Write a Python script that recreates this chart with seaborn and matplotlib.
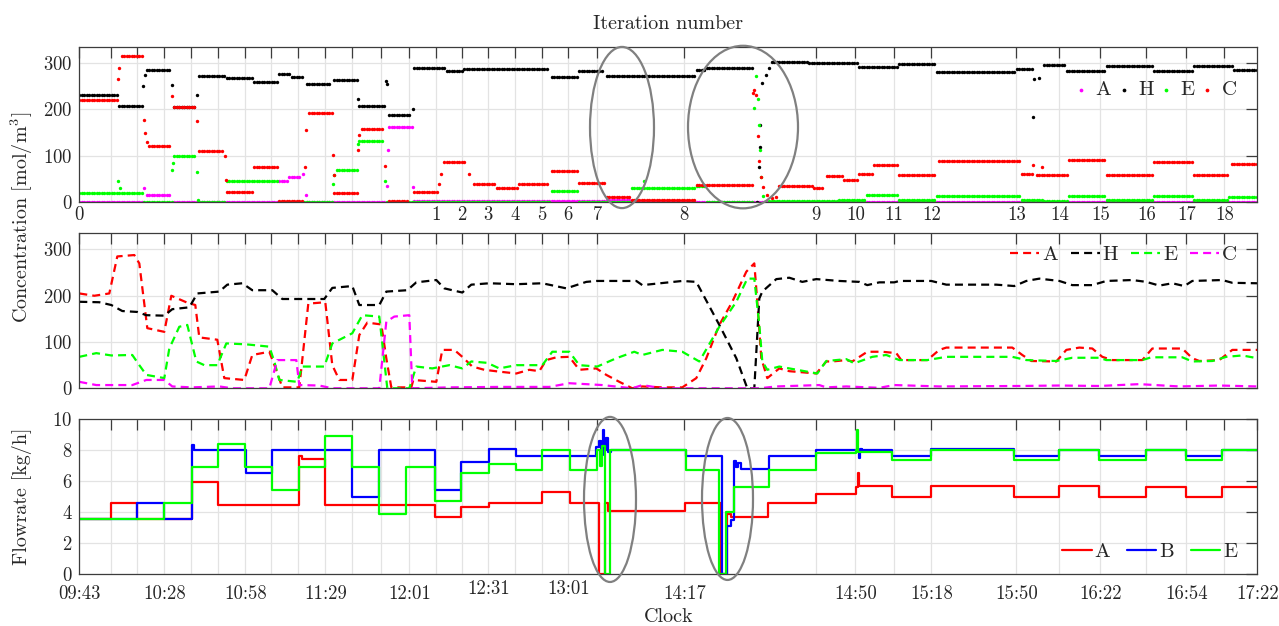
import numpy as np
import pandas as pd
import matplotlib
matplotlib.use("Agg")
import matplotlib.pyplot as plt
import seaborn as sns
from matplotlib.patches import Ellipse

sns.set_style("white")
plt.rcParams['font.family'] = ['cmr10', 'DejaVu Serif']
plt.rcParams['mathtext.fontset'] = 'cm'
plt.rcParams['axes.formatter.use_mathtext'] = True

# ---------------- x axis (sample index) ----------------
x_max = 1178
grid_positions = [0, 32, 58, 85, 112, 139, 166, 192, 219, 246, 273, 302, 330, 357,
                  383, 409, 436, 463, 489, 518, 605, 737, 776, 815, 852, 937, 980,
                  1021, 1067, 1107, 1145]
iteration_labels = {0: '0', 357: '1', 383: '2', 409: '3', 436: '4', 463: '5', 489: '6',
                    518: '7', 605: '8', 737: '9', 776: '10', 815: '11', 852: '12',
                    937: '13', 980: '14', 1021: '15', 1067: '16', 1107: '17', 1145: '18'}
clock_labels = {0: '09:43', 85: '10:28', 166: '10:58', 246: '11:29', 330: '12:01',
                409: '12:31', 489: '13:01', 605: '14:17', 776: '14:50', 852: '15:18',
                937: '15:50', 1021: '16:22', 1107: '16:54', 1178: '17:22'}
sample_x = np.arange(0, x_max, 2.5)   # measurement instants

# ---------------- top panel: measured concentrations (start, end, level) ----------------
top_A_segments = [(0, 63, 0), (66, 92, 15), (93, 198, 0), (198, 210, 45), (210, 222, 55),
                  (226, 307, 0), (310, 333, 163), (335, 472, 2), (472, 527, 3),
                  (527, 552, 5), (552, 1178, 1)]
top_A_points = [(65, 30), (224, 60), (227, 15), (308, 35), (309, 113), (334, 33)]

top_H_segments = [(0, 38, 230), (38, 63, 208), (67, 92, 285), (94, 117, 206), (119, 147, 272),
                  (147, 173, 268), (173, 198, 259), (198, 212, 277), (212, 225, 270),
                  (227, 252, 254), (253, 278, 263), (280, 306, 208), (310, 332, 187),
                  (335, 367, 289), (367, 385, 282), (385, 470, 286), (472, 498, 270),
                  (499, 523, 282), (527, 617, 272), (617, 627, 285), (627, 673, 289),
                  (692, 730, 303), (730, 780, 299), (780, 820, 292), (820, 857, 298),
                  (857, 937, 281), (937, 953, 288), (963, 987, 295), (987, 1027, 282),
                  (1027, 1073, 294), (1073, 1113, 282), (1113, 1153, 294), (1153, 1178, 284)]
top_H_points = [(64, 250), (66, 275), (93, 252), (118, 230), (279, 222), (307, 262), (308, 255),
                (334, 200), (678, 0), (680, 77), (680.5, 120), (681, 167), (683, 257),
                (687, 275), (690, 289), (954, 183), (955, 265), (960, 268)]

top_E_segments = [(0, 63, 20), (63, 93, 0), (95, 117, 99), (119, 147, 0), (147, 198, 45),
                  (198, 253, 0), (257, 278, 70), (280, 305, 132), (307, 472, 1), (472, 498, 25),
                  (498, 552, 0), (552, 617, 30), (617, 627, 36), (627, 673, 0), (690, 760, 3),
                  (760, 787, 5), (787, 820, 15), (820, 857, 5), (857, 942, 14), (942, 963, 5),
                  (963, 988, 3), (988, 1027, 14), (1027, 1073, 4), (1073, 1113, 14),
                  (1113, 1150, 5), (1150, 1178, 12)]
top_E_points = [(39, 45), (41, 30), (93, 70), (94, 85), (118, 65), (119, 5), (253.5, 40),
                (255, 58), (279, 125), (306, 45), (565, 45), (675, 203), (677, 271),
                (679, 222), (680, 167), (681, 113), (682, 55), (684, 14)]

top_C_segments = [(0, 38, 220), (42, 63, 316), (70, 92, 122), (94, 117, 205), (119, 145, 110),
                  (147, 173, 22), (173, 198, 76), (198, 225, 3), (228, 253, 193), (255, 278, 21),
                  (282, 305, 157), (308, 330, 3), (333, 358, 22), (365, 387, 86), (393, 417, 40),
                  (417, 438, 30), (438, 470, 39), (472, 498, 68), (498, 527, 42), (527, 552, 12),
                  (552, 617, 5), (617, 673, 37), (700, 733, 36), (733, 745, 30), (747, 765, 56),
                  (765, 780, 47), (780, 793, 62), (793, 820, 81), (820, 857, 59), (860, 942, 88),
                  (942, 953, 60), (957, 988, 59), (988, 1027, 90), (1027, 1073, 59),
                  (1075, 1113, 87), (1113, 1150, 58), (1152, 1178, 83)]
top_C_points = [(39, 265), (40, 290), (65, 178), (66, 150), (68, 130), (93, 228), (118, 175),
                (146, 99), (146.5, 48), (226, 75), (227, 155), (253.5, 102), (254.5, 58),
                (279, 112), (280, 145), (306, 78), (360, 40), (362, 60), (390, 62), (674, 235),
                (675, 242), (677, 232), (679, 142), (680, 88), (682, 55), (684, 34), (688, 16),
                (693, 9), (697, 12), (954, 80), (963, 75)]

# ---------------- middle panel: model concentrations (x, value) ----------------
mid_A = [(0, 205), (15, 200), (30, 205), (38, 285), (55, 288), (60, 270), (68, 130), (85, 122),
         (92, 200), (108, 185), (116, 180), (120, 110), (138, 105), (145, 22), (165, 18),
         (173, 72), (190, 79), (196, 45), (203, 2), (220, 2), (229, 183), (246, 186), (253, 50),
         (260, 18), (273, 18), (280, 115), (288, 142), (302, 138), (307, 65), (312, 2), (332, 2),
         (334, 18), (357, 14), (363, 83), (375, 83), (383, 68), (393, 47), (405, 40), (420, 36),
         (437, 32), (450, 40), (460, 37), (467, 61), (477, 67), (490, 68), (500, 40), (517, 43),
         (527, 29), (540, 14), (553, 0), (563, 4), (583, 2), (603, 2), (617, 22), (627, 65),
         (640, 137), (653, 187), (667, 252), (675, 270), (678, 187), (682, 65), (688, 22),
         (700, 43), (710, 37), (737, 32), (747, 58), (753, 58), (767, 61), (773, 58), (788, 79),
         (803, 79), (817, 76), (822, 61), (848, 61), (860, 83), (867, 88), (933, 88), (943, 72),
         (952, 59), (977, 58), (987, 83), (1000, 88), (1013, 86), (1023, 68), (1033, 61),
         (1063, 61), (1073, 86), (1103, 86), (1113, 65), (1120, 59), (1140, 61), (1153, 83),
         (1178, 83)]
mid_H = [(0, 187), (20, 186), (32, 180), (43, 167), (58, 165), (67, 158), (85, 157), (93, 171),
         (110, 175), (118, 205), (140, 209), (148, 224), (163, 227), (173, 212), (193, 212),
         (203, 193), (245, 193), (253, 217), (273, 221), (280, 180), (300, 180), (307, 209),
         (328, 212), (337, 229), (357, 234), (365, 216), (383, 207), (392, 224), (410, 227),
         (437, 225), (463, 227), (487, 216), (507, 230), (517, 232), (557, 232), (563, 223),
         (603, 232), (617, 230), (640, 137), (657, 65), (668, 0), (675, 0), (680, 194),
         (683, 209), (697, 236), (710, 239), (723, 230), (737, 236), (760, 232), (780, 230),
         (788, 223), (800, 229), (815, 229), (820, 232), (852, 232), (867, 224), (917, 224),
         (935, 221), (947, 232), (960, 237), (980, 232), (993, 223), (1013, 223), (1027, 232),
         (1053, 234), (1067, 230), (1080, 222), (1093, 227), (1105, 221), (1113, 232),
         (1143, 234), (1153, 228), (1178, 227)]
mid_E = [(0, 68), (17, 76), (32, 71), (53, 72), (60, 50), (67, 29), (85, 22), (90, 86), (100, 133),
         (108, 137), (117, 58), (125, 50), (138, 50), (147, 97), (167, 95), (190, 90), (195, 58),
         (200, 18), (218, 14), (223, 47), (245, 47), (253, 97), (273, 119), (283, 158), (300, 155),
         (308, 0), (330, 0), (337, 47), (353, 43), (370, 50), (383, 43), (392, 58), (408, 55),
         (420, 43), (437, 50), (463, 50), (473, 79), (490, 79), (500, 50), (518, 47), (537, 65),
         (555, 79), (563, 72), (583, 83), (603, 79), (620, 58), (640, 133), (657, 187), (668, 237),
         (675, 237), (680, 137), (683, 58), (688, 40), (700, 47), (710, 43), (738, 32), (747, 59),
         (767, 63), (775, 54), (793, 68), (807, 72), (820, 61), (848, 61), (867, 68), (933, 68),
         (947, 61), (977, 59), (993, 66), (1020, 66), (1027, 61), (1063, 61), (1072, 67),
         (1103, 67), (1113, 58), (1133, 59), (1147, 68), (1163, 71), (1178, 65)]
mid_C = [(0, 14), (17, 7), (53, 7), (67, 18), (85, 18), (93, 4), (112, 2), (140, 4), (153, 0),
         (190, 0), (198, 61), (217, 61), (220, 7), (240, 6), (253, 0), (300, 0), (307, 144),
         (315, 155), (330, 158), (333, 0), (370, 2), (420, 3), (470, 3), (490, 11), (523, 7),
         (553, 0), (563, 7), (583, 0), (680, 0), (697, 4), (740, 7), (747, 2), (767, 4), (800, 1),
         (815, 7), (860, 4), (940, 5), (980, 6), (1020, 5), (1060, 9), (1100, 4), (1140, 6),
         (1178, 4)]

# ---------------- bottom panel: flowrates, step changes (x, kg/h) ----------------
flow_A = [(0, 3.55), (32, 4.6), (58, 3.55), (113, 5.95), (139, 4.45), (220, 7.6), (223, 7.45),
          (246, 4.45), (356, 3.7), (382, 4.3), (410, 4.6), (463, 5.3), (491, 4.6), (520, 0),
          (526, 4.6), (529, 4.1), (606, 4.6), (642, 0), (648, 3.9), (652, 3.7), (689, 4.57),
          (737, 5.15), (777, 5.6), (779, 6.5), (780, 5.7), (813, 4.95), (852, 5.7), (935, 5.0),
          (980, 5.7), (1020, 5.0), (1067, 5.65), (1107, 5.0), (1143, 5.6), (1178, 5.6)]
flow_B = [(0, 3.55), (58, 4.6), (85, 3.55), (113, 8.35), (115, 8.0), (167, 6.5), (193, 8.0),
          (273, 4.95), (300, 8.0), (356, 5.4), (382, 7.25), (410, 8.1), (437, 7.6), (517, 8.2),
          (520, 8.6), (522, 7.7), (524, 9.3), (525, 8.0), (527, 8.8), (529, 7.9), (532, 8.0),
          (607, 7.6), (643, 0), (648, 3.1), (652, 3.5), (655, 7.3), (657, 6.9), (659, 7.2),
          (662, 6.8), (690, 7.6), (737, 8.0), (780, 7.5), (781, 8.1), (783, 8.0), (813, 7.6),
          (852, 8.05), (935, 7.6), (980, 8.0), (1020, 7.6), (1067, 8.0), (1107, 7.6),
          (1143, 8.0), (1178, 8.0)]
flow_E = [(0, 3.55), (85, 4.6), (113, 6.9), (139, 8.4), (166, 6.9), (193, 5.4), (220, 6.9),
          (246, 8.95), (273, 6.9), (300, 3.9), (327, 6.9), (356, 4.75), (382, 6.5), (410, 7.1),
          (437, 6.7), (463, 8.0), (491, 6.75), (518, 8.0), (521, 7.0), (523, 8.3), (526, 0),
          (531, 8.0), (607, 6.75), (640, 0), (647, 4.0), (655, 5.65), (690, 6.7), (737, 7.8),
          (777, 8.0), (778, 9.3), (779, 7.9), (813, 7.4), (852, 8.0), (935, 7.4), (980, 8.0),
          (1020, 7.4), (1067, 8.0), (1107, 7.4), (1143, 8.0), (1178, 8.0)]

# ---------------- annotation ellipses (centre x, centre y, width, height) ----------------
ellipses_top = [(542.7, 161, 64, 347), (663.7, 162, 110, 350)]
ellipses_bottom = [(530.7, 4.82, 52, 10.67), (648.2, 4.85, 51, 10.47)]

MAGENTA, BLACK, GREEN, RED, BLUE = '#FF00FF', '#000000', '#00FF00', '#FF0000', '#0000FF'
TXT = '#262626'
SPINE = '#3c3c3c'


def seg_points(segments, extra):
    xs, ys = [], []
    for s, e, v in segments:
        sx = sample_x[(sample_x >= s) & (sample_x < e)]
        xs.extend(sx.tolist())
        ys.extend([v] * len(sx))
    for x, y in extra:
        xs.append(x)
        ys.append(y)
    return pd.DataFrame({'x': xs, 'y': ys})


def pairs_df(pairs):
    return pd.DataFrame(pairs, columns=['x', 'y'])


fig = plt.figure(figsize=(12.79, 6.26), dpi=100)
L, W = 79.3 / 1279, 1178 / 1279
ax1 = fig.add_axes([L, 1 - 202.3 / 626, W, 155.6 / 626])
ax2 = fig.add_axes([L, 1 - 388.3 / 626, W, 155.0 / 626])
ax3 = fig.add_axes([L, 1 - 574.0 / 626, W, 154.7 / 626])


def style(ax, xticks):
    ax.set_xlim(0, x_max)
    ax.set_xticks(xticks)
    ax.grid(True, color='#e3e3e3', lw=0.9)
    ax.set_axisbelow(True)
    ax.tick_params(direction='in', top=True, right=True, length=8, width=0.9,
                   color=SPINE, labelsize=13.5, labelcolor=TXT)
    ax.tick_params(axis='y', pad=5)
    for sp in ax.spines.values():
        sp.set_color(SPINE)
        sp.set_linewidth(0.9)
    ax.set_xlabel('')
    ax.set_ylabel('')


# ---- top panel ----
for lab, segs, pts, col in [('A', top_A_segments, top_A_points, MAGENTA),
                            ('H', top_H_segments, top_H_points, BLACK),
                            ('E', top_E_segments, top_E_points, GREEN),
                            ('C', top_C_segments, top_C_points, RED)]:
    sns.scatterplot(data=seg_points(segs, pts), x='x', y='y', ax=ax1, color=col,
                    s=6, linewidth=0, label=lab)
style(ax1, grid_positions)
ax1.set_ylim(0, 335)
ax1.set_yticks([0, 100, 200, 300])
ax1.set_xticklabels([iteration_labels.get(p, '') for p in grid_positions])
ax1.tick_params(axis='x', pad=3)
ax1.set_title('Iteration number', fontsize=14.5, color=TXT, pad=13)
ax1.legend(loc='center right', bbox_to_anchor=(0.99, 0.722), ncol=4, frameon=False,
           fontsize=15, handlelength=0.6, handletextpad=0.4, columnspacing=0.3,
           borderaxespad=0, markerscale=1.1)
for cx, cy, w, h in ellipses_top:
    ax1.add_patch(Ellipse((cx, cy), w, h, fill=False, edgecolor='#808080', lw=1.6,
                          clip_on=False, zorder=6))

# ---- middle panel ----
for lab, pairs, col in [('A', mid_A, RED), ('H', mid_H, BLACK), ('E', mid_E, GREEN),
                        ('C', mid_C, MAGENTA)]:
    sns.lineplot(data=pairs_df(pairs), x='x', y='y', ax=ax2, color=col, lw=1.6,
                 sort=False, estimator=None, label=lab)
    ax2.lines[-1].set_dashes([3.6, 2.3])
style(ax2, grid_positions)
ax2.set_ylim(0, 335)
ax2.set_yticks([0, 100, 200, 300])
ax2.set_xticklabels([])
ax2.legend(loc='center right', bbox_to_anchor=(0.99, 0.86), ncol=4, frameon=False,
           fontsize=15, handlelength=1.4, handletextpad=0.15, columnspacing=0.6,
           borderaxespad=0)

# ---- bottom panel ----
for lab, pairs, col in [('A', flow_A, RED), ('B', flow_B, BLUE), ('E', flow_E, GREEN)]:
    sns.lineplot(data=pairs_df(pairs), x='x', y='y', ax=ax3, color=col, lw=1.6,
                 sort=False, estimator=None, drawstyle='steps-post', label=lab)
bottom_ticks = grid_positions + [x_max]
style(ax3, bottom_ticks)
ax3.set_ylim(0, 10)
ax3.set_yticks([0, 2, 4, 6, 8, 10])
ax3.set_xticklabels([clock_labels.get(p, '') for p in bottom_ticks])
ax3.tick_params(axis='x', pad=8)
for tick, p in zip(ax3.xaxis.get_major_ticks(), bottom_ticks):
    if p in (409, 489):
        tick.set_pad(4.5)
ax3.legend(loc='center right', bbox_to_anchor=(0.99, 0.142), ncol=3, frameon=False,
           fontsize=15, handlelength=1.4, handletextpad=0.15, columnspacing=0.8,
           borderaxespad=0)
for cx, cy, w, h in ellipses_bottom:
    ax3.add_patch(Ellipse((cx, cy), w, h, fill=False, edgecolor='#808080', lw=1.6,
                          clip_on=False, zorder=6))
ax3.set_xlabel('Clock', fontsize=14.5, color=TXT)
ax3.xaxis.set_label_coords(0.5, -0.22)

fig.text(22 / 1279, 1 - 217.5 / 626, r'Concentration [mol/m$^3$]', rotation=90,
         ha='center', va='center', fontsize=14.5, color=TXT)
fig.text(22 / 1279, 1 - 496.6 / 626, 'Flowrate [kg/h]', rotation=90,
         ha='center', va='center', fontsize=14.5, color=TXT)

fig.savefig('out.png', dpi=100)
